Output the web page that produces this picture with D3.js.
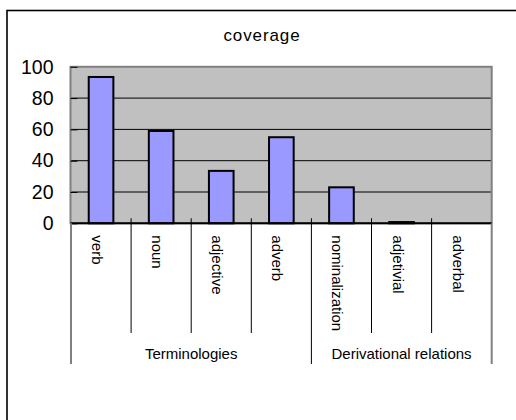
<!DOCTYPE html>
<html>
<head>
<meta charset="utf-8">
<script src="https://cdn.jsdelivr.net/npm/d3@7/dist/d3.min.js"></script>
<style>
  html, body { margin: 0; padding: 0; background: #fff; }
  svg { display: block; font-family: "Liberation Sans", Arial, sans-serif; }
</style>
</head>
<body>
<svg id="chart" width="516" height="420"></svg>
<script>
// Coverage per category (percent)
const categories = ["verb", "noun", "adjective", "adverb", "nominalization", "adjetivial", "adverbal"];
const coverage = [93.5, 59, 33.5, 55, 23, 0.8, 0];
// Group each category belongs to
const groupNames = ["Terminologies", "Derivational relations"];
const groupOf = [0, 0, 0, 0, 1, 1, 1];
const yTicks = [0, 20, 40, 60, 80, 100];

const svg = d3.select("#chart");

// Chart frame
svg.append("rect")
  .attr("x", 7).attr("y", 10.5)
  .attr("width", 530).attr("height", 430)
  .attr("fill", "#fff").attr("stroke", "#000").attr("stroke-width", 1.6);

// Title
svg.append("text")
  .attr("x", 262).attr("y", 41)
  .attr("text-anchor", "middle")
  .attr("font-size", 17).attr("letter-spacing", 0.9)
  .attr("fill", "#000")
  .text("coverage");

const plot = { left: 70.5, right: 491.7, top: 66.8, bottom: 223.3 };

const x = d3.scaleBand()
  .domain(categories)
  .range([plot.left + 0.5, plot.right]);

const y = d3.scaleLinear()
  .domain([0, 100])
  .range([plot.bottom, plot.top]);

// Plot area background
svg.append("rect")
  .attr("x", plot.left).attr("y", plot.top)
  .attr("width", plot.right - plot.left).attr("height", plot.bottom - plot.top)
  .attr("fill", "#c0c0c0");

// Gridlines
svg.append("g")
  .selectAll("line")
  .data(yTicks.filter(v => v > 0 && v < 100))
  .join("line")
  .attr("x1", plot.left).attr("x2", plot.right)
  .attr("y1", d => y(d)).attr("y2", d => y(d))
  .attr("stroke", "#000").attr("stroke-width", 1);

// Plot area border
svg.append("rect")
  .attr("x", plot.left).attr("y", plot.top)
  .attr("width", plot.right - plot.left).attr("height", plot.bottom - plot.top)
  .attr("fill", "none").attr("stroke", "#808080").attr("stroke-width", 2);

// Value axis
const yAxis = svg.append("g")
  .attr("transform", `translate(${plot.left},0)`)
  .call(d3.axisLeft(y).tickValues(yTicks).tickSize(-7).tickPadding(17));
yAxis.select(".domain").remove();
yAxis.selectAll(".tick line").attr("stroke", "#000");
yAxis.selectAll(".tick text")
  .attr("font-size", 19.5)
  .attr("font-family", "'Liberation Sans', Arial, sans-serif")
  .attr("fill", "#000");

// Bars
const barW = x.bandwidth() * 0.41;
svg.append("g")
  .selectAll("rect")
  .data(categories.map((c, i) => ({ c, v: coverage[i] })))
  .join("rect")
  .attr("x", d => x(d.c) + (x.bandwidth() - barW) / 2)
  .attr("y", d => y(d.v))
  .attr("width", barW)
  .attr("height", d => y(0) - y(d.v))
  .attr("fill", "#9999ff")
  .attr("stroke", "#000").attr("stroke-width", 2);

// Category axis line
svg.append("line")
  .attr("x1", plot.left).attr("x2", plot.right)
  .attr("y1", plot.bottom).attr("y2", plot.bottom)
  .attr("stroke", "#000").attr("stroke-width", 2);

// Category separators: short between categories, long at group boundaries
const edges = categories.map(c => x(c)).concat([x.range()[1]]);
const innerBottom = 333;
const groupBottom = 364;
svg.append("g")
  .selectAll("line")
  .data(edges.map((e, i) => {
    const isGroupEdge = i === 0 || i === categories.length || groupOf[i] !== groupOf[i - 1];
    return { e, isGroupEdge, outer: i === 0 || i === categories.length };
  }))
  .join("line")
  .attr("x1", d => d.e).attr("x2", d => d.e)
  .attr("y1", d => d.outer ? plot.bottom : plot.bottom - 5)
  .attr("y2", d => d.isGroupEdge ? groupBottom : innerBottom)
  .attr("stroke", d => d.outer ? "#808080" : "#000")
  .attr("stroke-width", d => d.outer ? 2 : 1);

// Category labels, rotated to read downward
svg.append("g")
  .selectAll("text")
  .data(categories)
  .join("text")
  .attr("transform", d => `translate(${x(d) + x.bandwidth() / 2 - 3.5},${plot.bottom + 12}) rotate(90)`)
  .attr("dominant-baseline", "central")
  .attr("font-size", 15)
  .attr("fill", "#000")
  .text(d => d);

// Group labels
svg.append("g")
  .selectAll("text")
  .data(groupNames)
  .join("text")
  .attr("x", (g, gi) => {
    const idx = categories.map((c, i) => i).filter(i => groupOf[i] === gi);
    const x0 = x(categories[idx[0]]);
    const x1 = x(categories[idx[idx.length - 1]]) + x.bandwidth();
    return (x0 + x1) / 2;
  })
  .attr("y", 358.5)
  .attr("text-anchor", "middle")
  .attr("font-size", 15)
  .attr("fill", "#000")
  .text(d => d);
</script>
</body>
</html>
